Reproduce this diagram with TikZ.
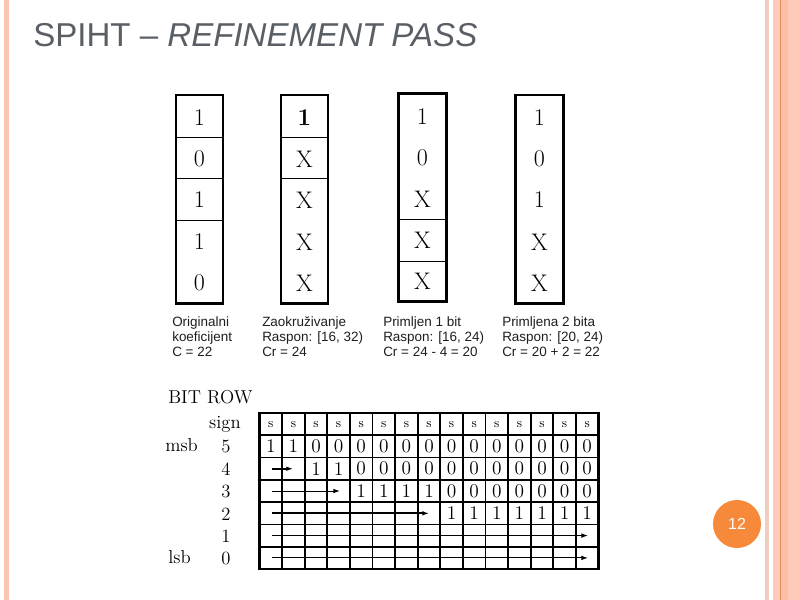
\documentclass[tikz,border=0pt]{standalone}
\usepackage{fontspec}
\newfontfamily\arialf{Liberation Sans}
\usetikzlibrary{arrows.meta}
\definecolor{titlegray}{RGB}{90,95,102}
\definecolor{barpink}{RGB}{250,197,180}
\definecolor{stripbeige}{RGB}{239,205,192}
\definecolor{salmon}{RGB}{253,203,184}
\definecolor{salmondark}{RGB}{251,191,168}
\definecolor{orangeline}{RGB}{224,144,94}
\definecolor{pnorange}{RGB}{247,137,58}
\definecolor{lbltext}{RGB}{30,30,30}
\tikzset{
  boxline/.style={line width=1.9pt},
  innerline/.style={line width=0.8pt},
  boxtxt/.style={inner sep=0pt, font=\fontsize{18}{21}\selectfont},
  lbl/.style={anchor=base west, inner sep=0pt, text=lbltext, font=\arialf\fontsize{10.1}{12}\selectfont},
  gridline/.style={line width=1.25pt},
  gridouter/.style={line width=1.7pt},
  celltxt/.style={inner sep=0pt, font=\fontsize{14.5}{17}\selectfont},
  signtxt/.style={inner sep=0pt, font=\fontsize{10}{12}\selectfont},
  sidetxt/.style={inner sep=0pt, font=\fontsize{14}{17}\selectfont},
  thickarrow/.style={line width=1.5pt, -{Latex[length=5pt,width=3.5pt]}},
  thinarrow/.style={line width=0.75pt, -{Latex[length=5pt,width=3.5pt]}},
}
\begin{document}
\begin{tikzpicture}[x=0.75pt,y=-0.75pt]
\useasboundingbox (0,0) rectangle (800,600);
\fill[white] (0,0) rectangle (800,600);
% side decorations
\fill[barpink] (4,0) rectangle (9,600);
\fill[stripbeige] (765,0) rectangle (769,600);
\fill[salmon] (773,0) rectangle (800,600);
\fill[salmondark] (780,0) rectangle (788,600);
\draw[orangeline, line width=0.8pt] (780.5,0) -- (780.5,600);
% title
\node[anchor=base west, inner sep=0pt, text=titlegray, font=\arialf\fontsize{24.8}{28}\selectfont] (title) at (33,46) {SPIHT – \textit{REFINEMENT PASS}};
% ---- column 1
\draw[boxline] (176,95) rectangle (223,303.5);
\foreach \yy in {137.3,178.3,220.7} \draw[innerline] (176,\yy) -- (223,\yy);
\foreach \t/\yy [count=\k] in {1/118,0/159,1/200,1/242,0/283}
  \node[boxtxt] (ca\k) at (199.5,\yy) {\t};
% ---- column 2
\draw[boxline] (281,95) rectangle (328,303.5);
\foreach \yy in {137.3,178.3} \draw[innerline] (281,\yy) -- (328,\yy);
\node[boxtxt, font=\bfseries\fontsize{18}{21}\selectfont] (cb1) at (304.5,118) {1};
\foreach \t/\yy [count=\k from 2] in {X/159,X/200,X/242,X/283}
  \node[boxtxt] (cb\k) at (304.5,\yy) {\t};
% ---- column 3
\draw[boxline] (398.3,93.3) rectangle (446.7,301.7);
\foreach \yy in {219.3,261.7} \draw[innerline] (398.3,\yy) -- (446.7,\yy);
\foreach \t/\yy [count=\k] in {1/116.5,0/157.5,X/199,X/240.5,X/281.5}
  \node[boxtxt] (cc\k) at (422.5,\yy) {\t};
% ---- column 4
\draw[boxline] (515.7,95) rectangle (563.3,303.5);
\foreach \t/\yy [count=\k] in {1/118,0/159,1/200,X/242,X/283}
  \node[boxtxt] (cd\k) at (539.5,\yy) {\t};
% labels
\node[lbl] (la1) at (172,326.7) {Originalni};
\node[lbl] (la2) at (172,341.7) {koeficijent};
\node[lbl] (la3) at (172,356.7) {C = 22};
\node[lbl] (lb1) at (262,326.7) {Zaokruživanje};
\node[lbl] (lb2) at (262,341.7) {Raspon: [16, 32)};
\node[lbl] (lb3) at (262,356.7) {Cr = 24};
\node[lbl] (lc1) at (383,326.7) {Primljen 1 bit};
\node[lbl] (lc2) at (383,341.7) {Raspon: [16, 24)};
\node[lbl] (lc3) at (383,356.7) {Cr = 24 - 4 = 20};
\node[lbl] (ld1) at (502,326.7) {Primljena 2 bita};
\node[lbl] (ld2) at (502,341.7) {Raspon: [20, 24)};
\node[lbl] (ld3) at (502,356.7) {Cr = 20 + 2 = 22};
% ---- bit table
\def\tx{259.5}\def\cw{22.6}\def\ty{413}\def\rh{22.29}
\foreach \j in {1,...,14} \draw[gridline] ({\tx+\j*\cw},\ty) -- ({\tx+\j*\cw},{\ty+7*\rh});
\foreach \i in {1,...,6} \draw[gridline] (\tx,{\ty+\i*\rh}) -- ({\tx+15*\cw},{\ty+\i*\rh});
\draw[gridouter] (\tx,\ty) rectangle ({\tx+15*\cw},{\ty+7*\rh});
% sign row
\foreach \c in {0,...,14}
  \node[signtxt] (s\c) at ({\tx+(\c+0.5)*\cw},{\ty+0.5*\rh}) {s};
% bit 5
\foreach \v [count=\k from 0] in {1,1,0,0,0,0,0,0,0,0,0,0,0,0,0}
  \node[celltxt] (b5-\k) at ({\tx+(\k+0.5)*\cw},{\ty+1.5*\rh}) {\v};
% bit 4
\foreach \v [count=\k from 2] in {1,1,0,0,0,0,0,0,0,0,0,0,0}
  \node[celltxt] (b4-\k) at ({\tx+(\k+0.5)*\cw},{\ty+2.5*\rh}) {\v};
% bit 3
\foreach \v [count=\k from 4] in {1,1,1,1,0,0,0,0,0,0,0}
  \node[celltxt] (b3-\k) at ({\tx+(\k+0.5)*\cw},{\ty+3.5*\rh}) {\v};
% bit 2
\foreach \v [count=\k from 8] in {1,1,1,1,1,1,1}
  \node[celltxt] (b2-\k) at ({\tx+(\k+0.5)*\cw},{\ty+4.5*\rh}) {\v};
% arrows
\coordinate (a4s) at (272,{\ty+2.5*\rh}); \coordinate (a4e) at (293,{\ty+2.5*\rh});
\coordinate (a3s) at (272,{\ty+3.5*\rh}); \coordinate (a3e) at (340,{\ty+3.5*\rh});
\coordinate (a2s) at (272,{\ty+4.5*\rh}); \coordinate (a2e) at (429,{\ty+4.5*\rh});
\coordinate (a1s) at (272,{\ty+5.5*\rh}); \coordinate (a1e) at (588,{\ty+5.5*\rh});
\coordinate (a0s) at (272,{\ty+6.5*\rh}); \coordinate (a0e) at (588,{\ty+6.5*\rh});
\draw[thickarrow] (a4s) -- (a4e);
\draw[thinarrow] (a3s) -- (a3e);
\draw[thickarrow] (a2s) -- (a2e);
\draw[thinarrow] (a1s) -- (a1e);
\draw[thinarrow] (a0s) -- (a0e);
% side labels
\node[sidetxt, anchor=base west] (bitrow) at (168,403) {BIT ROW};
\node[sidetxt, anchor=base] (sign) at (225,428.5) {sign};
\foreach \d [count=\k] in {5,4,3,2,1,0}
  \node[sidetxt] (d\d) at (226,{\ty+(\k+0.5)*\rh+0.5}) {\d};
\node[sidetxt, anchor=base west] (msb) at (165,{\ty+1.5*\rh+5.5}) {msb};
\node[sidetxt, anchor=base west] (lsb) at (168,{\ty+6.5*\rh+5.5}) {lsb};
% page number
\node[circle, fill=pnorange, minimum size=36pt, inner sep=0pt, text=white, font=\arialf\fontsize{12}{14}\selectfont] (pg) at (737,524) {12};
\end{tikzpicture}
\end{document}
